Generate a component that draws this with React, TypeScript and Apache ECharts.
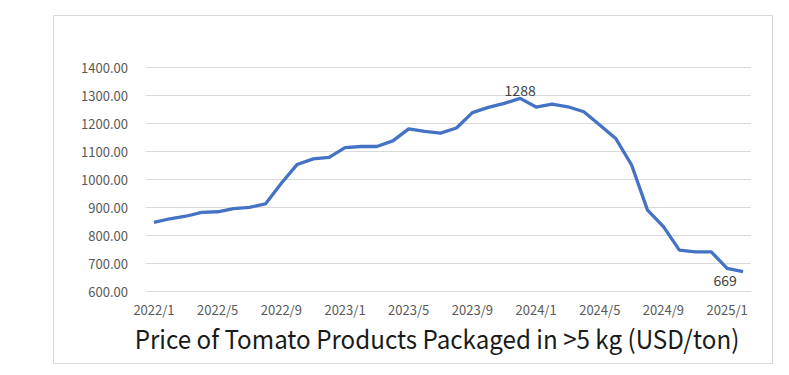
import React, { useEffect, useRef } from "react";
import * as echarts from "echarts";

const categories = [
  "2022/1", "2022/2", "2022/3", "2022/4", "2022/5", "2022/6", "2022/7", "2022/8", "2022/9", "2022/10", "2022/11", "2022/12",
  "2023/1", "2023/2", "2023/3", "2023/4", "2023/5", "2023/6", "2023/7", "2023/8", "2023/9", "2023/10", "2023/11", "2023/12",
  "2024/1", "2024/2", "2024/3", "2024/4", "2024/5", "2024/6", "2024/7", "2024/8", "2024/9", "2024/10", "2024/11", "2024/12",
  "2025/1", "2025/2",
];

const prices = [
  845, 858, 867, 881, 883, 894, 899, 911, 985, 1052, 1072, 1077,
  1112, 1116, 1116, 1136, 1179, 1170, 1164, 1182, 1237, 1256, 1270, 1288,
  1257, 1267, 1258, 1240, 1193, 1145, 1050, 889, 830, 746, 740, 740,
  681, 669,
];

const labelledIndices = [23, 37];
const title = "Price of Tomato Products Packaged in >5 kg (USD/ton)";

export default function App() {
  const ref = useRef<HTMLDivElement>(null);
  useEffect(() => {
    if (!ref.current) return;
    const chart = echarts.init(ref.current, null, { renderer: "svg" });
    const font = "'Noto Sans CJK TC', 'Noto Sans', sans-serif";
    const data = prices.map((v, i) => {
      if (i === labelledIndices[0]) {
        return { value: v, label: { show: true, position: "top", distance: 1 } };
      }
      if (i === labelledIndices[1]) {
        return { value: v, label: { show: true, position: "bottom", distance: 5, offset: [-18, -4] } };
      }
      return { value: v };
    });
    chart.setOption({
      animation: false,
      backgroundColor: "#ffffff",
      textStyle: { fontFamily: font },
      grid: { left: 146, right: 38, top: 67, bottom: 84, containLabel: false },
      xAxis: {
        type: "category",
        data: categories,
        boundaryGap: true,
        axisTick: { show: false },
        axisLine: { lineStyle: { color: "#d9d9d9", width: 1 } },
        axisLabel: { interval: 3, color: "#595959", fontSize: 13, margin: 12, fontFamily: font },
      },
      yAxis: {
        type: "value",
        min: 600,
        max: 1400,
        interval: 100,
        axisLine: { show: false },
        axisTick: { show: false },
        splitLine: { lineStyle: { color: "#d9d9d9", width: 1 } },
        axisLabel: {
          color: "#595959",
          fontSize: 13,
          margin: 18,
          fontFamily: font,
          formatter: (v: number) => v.toFixed(2),
        },
      },
      series: [
        {
          type: "line",
          data,
          showSymbol: true,
          symbol: "circle",
          symbolSize: 0,
          lineStyle: { color: "#4472C4", width: 3.3 },
          itemStyle: { color: "#4472C4" },
          label: { show: false, color: "#404040", fontSize: 14, fontFamily: font },
        },
      ],
      graphic: [
        {
          type: "rect",
          shape: { x: 53.5, y: 15.5, width: 719, height: 348 },
          style: { fill: "none", stroke: "#d9d9d9", lineWidth: 1 },
          silent: true,
        },
        {
          type: "text",
          x: 437,
          y: 338,
          scaleX: 0.93,
          style: {
            text: title,
            fill: "#1a1a1a",
            font: `26px ${font}`,
            textAlign: "center",
            textVerticalAlign: "middle",
          },
        },
      ],
    });
    return () => chart.dispose();
  }, []);
  return (
    <div
      ref={ref}
      style={{ position: "fixed", left: 0, top: 0, width: 789, height: 375 }}
    />
  );
}
